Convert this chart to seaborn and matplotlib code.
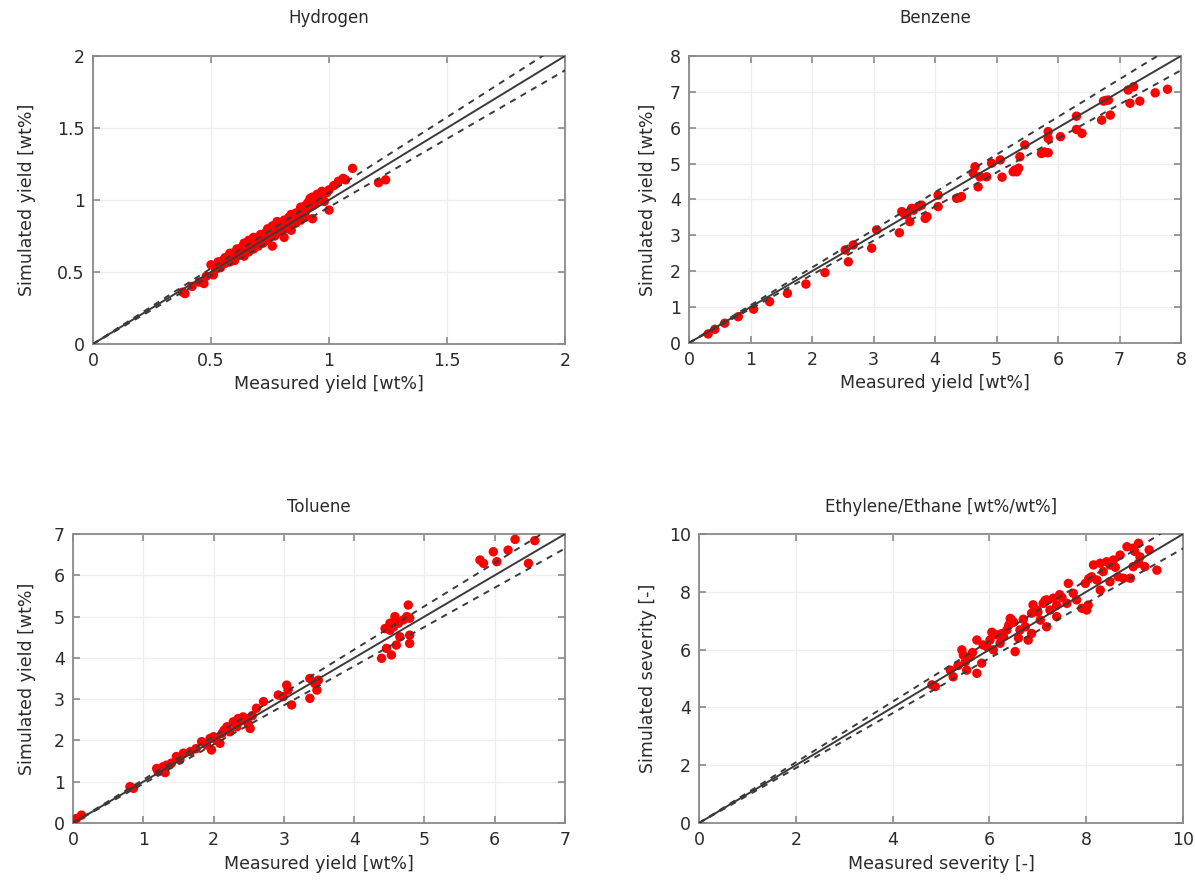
import matplotlib
matplotlib.use("Agg")
import matplotlib.pyplot as plt
import seaborn as sns
import pandas as pd
from matplotlib.ticker import FuncFormatter, MultipleLocator

# Measured vs simulated yields (wt%) for each product
hydrogen_measured = [0.38, 0.39, 0.42, 0.45, 0.47, 0.48, 0.50, 0.51, 0.52, 0.53, 0.54, 0.55, 0.56,
                     0.57, 0.58, 0.58, 0.59, 0.60, 0.60, 0.61, 0.62, 0.62, 0.63, 0.64, 0.64, 0.65,
                     0.66, 0.66, 0.67, 0.68, 0.68, 0.69, 0.70, 0.70, 0.71, 0.72, 0.72, 0.73, 0.74,
                     0.74, 0.75, 0.76, 0.76, 0.77, 0.78, 0.78, 0.79, 0.80, 0.80, 0.81, 0.82, 0.82,
                     0.83, 0.84, 0.84, 0.85, 0.86, 0.87, 0.88, 0.88, 0.89, 0.90, 0.90, 0.91, 0.92,
                     0.92, 0.93, 0.93, 0.94, 0.95, 0.95, 0.96, 0.97, 0.98, 1.00, 1.00, 1.02, 1.04,
                     1.06, 1.07, 1.10, 1.21, 1.24,
                     0.53, 0.56, 0.59, 0.61, 0.63, 0.65, 0.67, 0.69, 0.71, 0.73, 0.75, 0.77, 0.79,
                     0.81, 0.83, 0.86, 0.89, 0.91, 0.94, 0.96, 0.99, 0.57, 0.62, 0.67, 0.72, 0.77,
                     0.82, 0.87, 0.93, 0.55, 0.60, 0.70, 0.80, 0.90,
                     0.58, 0.64, 0.68, 0.74, 0.78, 0.84, 0.88, 0.92, 0.95, 0.97, 0.66, 0.76]
hydrogen_simulated = [0.36, 0.35, 0.40, 0.43, 0.42, 0.47, 0.55, 0.48, 0.52, 0.55, 0.53, 0.58, 0.56,
                      0.60, 0.57, 0.62, 0.60, 0.63, 0.58, 0.65, 0.62, 0.66, 0.64, 0.68, 0.61, 0.66,
                      0.70, 0.64, 0.69, 0.72, 0.66, 0.71, 0.74, 0.68, 0.72, 0.76, 0.70, 0.74, 0.78,
                      0.72, 0.76, 0.79, 0.68, 0.75, 0.81, 0.77, 0.83, 0.79, 0.84, 0.74, 0.82, 0.86,
                      0.80, 0.85, 0.79, 0.88, 0.84, 0.86, 0.90, 0.86, 0.93, 0.96, 0.88, 0.98, 1.00,
                      0.95, 1.02, 0.87, 0.97, 1.04, 1.00, 1.01, 1.05, 0.99, 0.93, 1.07, 1.10, 1.13,
                      1.15, 1.14, 1.22, 1.12, 1.14,
                      0.57, 0.60, 0.63, 0.66, 0.67, 0.70, 0.72, 0.73, 0.76, 0.77, 0.80, 0.82, 0.84,
                      0.86, 0.88, 0.91, 0.95, 0.97, 1.00, 1.03, 1.05, 0.58, 0.63, 0.67, 0.73, 0.78,
                      0.83, 0.88, 0.96, 0.57, 0.61, 0.71, 0.81, 0.92,
                      0.63, 0.70, 0.74, 0.80, 0.85, 0.90, 0.95, 1.01, 1.03, 1.06, 0.72, 0.82]

benzene_measured = [0.31, 0.42, 0.58, 0.80, 1.05, 1.31, 1.60, 1.90, 2.21, 2.54, 2.67, 2.59, 2.97,
                    3.05, 3.42, 3.46, 3.54, 3.59, 3.65, 3.73, 3.78, 3.84, 3.87, 4.05, 4.05, 4.35,
                    4.43, 4.65, 4.62, 4.70, 4.73, 4.84, 4.92, 5.06, 5.09, 5.27, 5.33, 5.36, 5.38,
                    5.46, 5.73, 5.84, 5.84, 5.84, 6.04, 6.30, 6.30, 6.39, 6.71, 6.85, 6.74, 6.82,
                    7.14, 7.23, 7.17, 7.33, 7.58, 7.78, 3.50, 3.62, 4.40, 5.30, 5.78, 6.78]
benzene_simulated = [0.25, 0.38, 0.55, 0.73, 0.94, 1.15, 1.38, 1.64, 1.96, 2.59, 2.73, 2.26, 2.64,
                     3.15, 3.07, 3.66, 3.57, 3.38, 3.70, 3.80, 3.84, 3.47, 3.52, 4.12, 3.80, 4.03,
                     4.08, 4.91, 4.73, 4.35, 4.63, 4.63, 5.01, 5.10, 4.62, 4.77, 4.77, 4.87, 5.19,
                     5.52, 5.28, 5.30, 5.89, 5.70, 5.75, 6.32, 5.95, 5.84, 6.21, 6.35, 6.74, 6.77,
                     7.05, 7.14, 6.68, 6.74, 6.97, 7.07, 3.60, 3.75, 4.05, 4.82, 5.32, 6.76]

toluene_measured = [0.05, 0.12, 0.81, 0.86, 1.19, 1.28, 1.33, 1.21, 1.31, 1.47, 1.57, 1.67, 1.52,
                    1.83, 1.90, 1.97, 2.04, 2.12, 2.00, 2.09, 2.19, 2.28, 2.35, 2.42, 2.49, 2.23,
                    2.33, 2.52, 2.61, 2.71, 2.92, 3.04, 3.06, 2.99, 3.11, 3.37, 3.44, 3.49, 3.37,
                    3.47, 4.39, 4.53, 4.46, 4.60, 4.65, 4.51, 4.63, 4.70, 4.77, 4.75, 4.79, 4.79,
                    4.79, 4.56, 4.51, 4.44, 4.58, 5.79, 5.84, 5.98, 6.03, 6.19, 6.29, 6.57, 6.48,
                    1.40, 1.75, 1.95, 2.15, 2.45, 2.55, 1.25, 2.38]
toluene_simulated = [0.11, 0.19, 0.88, 0.84, 1.32, 1.36, 1.40, 1.24, 1.22, 1.61, 1.69, 1.73, 1.53,
                     1.97, 1.89, 1.77, 2.01, 2.17, 2.09, 1.93, 2.33, 2.45, 2.53, 2.57, 2.41, 2.21,
                     2.33, 2.29, 2.78, 2.94, 3.10, 3.34, 3.22, 3.06, 2.86, 3.50, 3.38, 3.46, 3.02,
                     3.22, 3.99, 4.07, 4.23, 4.31, 4.51, 4.67, 4.84, 4.92, 5.28, 5.00, 4.96, 4.55,
                     4.35, 4.75, 4.84, 4.71, 5.00, 6.37, 6.29, 6.57, 6.33, 6.61, 6.87, 6.84, 6.29,
                     1.45, 1.80, 2.05, 2.25, 2.50, 2.60, 1.30, 2.47]

ethylene_measured = [4.88, 4.81, 5.19, 5.25, 5.43, 5.46, 5.50, 5.53, 5.74, 5.74, 5.87, 5.84, 6.01,
                     6.15, 6.22, 6.08, 6.36, 6.46, 6.43, 6.53, 6.29, 6.63, 6.74, 6.80, 6.87, 6.87,
                     6.98, 7.05, 7.11, 7.18, 7.25, 7.32, 7.39, 7.18, 7.39, 7.63, 7.80, 7.73, 7.91,
                     8.01, 8.04, 7.98, 8.11, 8.22, 8.29, 8.15, 8.29, 8.42, 8.49, 8.56, 8.49, 8.66,
                     8.77, 8.70, 8.84, 8.97, 9.08, 8.97, 9.11, 9.08, 9.21, 8.91, 9.46, 6.50, 6.60,
                     7.00, 5.95, 6.70, 5.60, 5.35, 6.05, 6.40, 6.90, 7.50, 7.60, 8.05, 8.35, 8.60,
                     9.30, 9.00, 7.45, 5.65, 6.25, 7.15]
ethylene_simulated = [4.72, 4.78, 5.29, 5.06, 5.99, 5.81, 5.58, 5.29, 5.18, 6.33, 6.16, 5.53, 6.33,
                      6.51, 6.22, 5.99, 6.68, 7.02, 7.08, 5.93, 6.45, 6.68, 6.79, 6.33, 6.56, 7.26,
                      7.37, 7.02, 7.60, 7.72, 7.37, 7.78, 7.54, 6.79, 7.14, 8.29, 7.72, 7.95, 7.43,
                      7.37, 7.54, 8.29, 8.52, 8.41, 8.06, 8.93, 8.99, 9.04, 8.93, 9.10, 8.35, 8.52,
                      8.47, 9.27, 9.56, 9.51, 9.68, 8.87, 9.21, 8.99, 8.87, 8.47, 8.75, 6.95, 6.40,
                      7.30, 6.10, 7.05, 5.75, 5.45, 6.60, 6.85, 7.55, 7.80, 7.60, 8.45, 8.70, 8.85,
                      9.45, 9.40, 7.90, 5.90, 6.55, 7.70]

titles = ["Hydrogen", "Benzene", "Toluene", "Ethylene/Ethane [wt%/wt%]"]
x_labels = ["Measured yield [wt%]", "Measured yield [wt%]",
            "Measured yield [wt%]", "Measured severity [-]"]
y_labels = ["Simulated yield [wt%]", "Simulated yield [wt%]",
            "Simulated yield [wt%]", "Simulated severity [-]"]
axis_max = [2, 8, 7, 10]
tick_step = [0.5, 1, 1, 2]
tolerance = 0.05

series = [(hydrogen_measured, hydrogen_simulated),
          (benzene_measured, benzene_simulated),
          (toluene_measured, toluene_simulated),
          (ethylene_measured, ethylene_simulated)]

sns.set_theme(style="white")
plt.rcParams["font.family"] = ["DejaVu Sans"]

fig = plt.figure(figsize=(11.95, 8.93), dpi=100)

# axes rectangles in figure fractions: left, bottom, width, height
rects = [(0.0778, 0.6148, 0.3950, 0.3225),
         (0.5766, 0.6160, 0.4117, 0.3214),
         (0.0611, 0.0784, 0.4117, 0.3236),
         (0.5850, 0.0784, 0.4050, 0.3236)]
ylabel_x = [-0.121, -0.065, -0.075, -0.087]
xlabel_y = [-0.108, -0.108, -0.112, -0.112]
title_pad = [24, 24, 16, 16]

frame_grey = "#8a8a8a"
line_grey = "#3a3a3a"
text_col = "#2a2a2a"

for i, ((meas, sim), rect) in enumerate(zip(series, rects)):
    ax = fig.add_axes(rect)
    lim = axis_max[i]
    ref = pd.DataFrame({"x": [0, lim * 1.1]})
    ref["parity"] = ref["x"]
    ref["upper"] = ref["x"] * (1 + tolerance)
    ref["lower"] = ref["x"] * (1 - tolerance)

    df = pd.DataFrame({"measured": meas, "simulated": sim})
    sns.scatterplot(data=df, x="measured", y="simulated", ax=ax, color="#ff0000",
                    s=46, edgecolor="none", linewidth=0, zorder=3)

    sns.lineplot(data=ref, x="x", y="parity", ax=ax, color=line_grey, lw=1.4, zorder=4)
    for col in ["upper", "lower"]:
        sns.lineplot(data=ref, x="x", y=col, ax=ax, color=line_grey, lw=1.4,
                     linestyle=(0, (3.2, 3.0)), zorder=4)

    ax.set_xlim(0, lim)
    ax.set_ylim(0, lim)
    ax.xaxis.set_major_locator(MultipleLocator(tick_step[i]))
    ax.yaxis.set_major_locator(MultipleLocator(tick_step[i]))
    fmt = FuncFormatter(lambda v, p: f"{v:g}")
    ax.xaxis.set_major_formatter(fmt)
    ax.yaxis.set_major_formatter(fmt)

    ax.grid(True, color="#eeeeee", linewidth=0.9)
    ax.set_axisbelow(True)
    for sp in ax.spines.values():
        sp.set_visible(True)
        sp.set_color(frame_grey)
        sp.set_linewidth(1.3)
    ax.tick_params(direction="in", length=5, width=1.2, color=frame_grey,
                   top=True, right=True, bottom=True, left=True,
                   labelsize=12.5, labelcolor=text_col, pad=6)

    ax.set_title(titles[i], fontsize=12, color=text_col, pad=title_pad[i])
    ax.set_xlabel(x_labels[i], fontsize=12.5, color=text_col)
    ax.set_ylabel(y_labels[i], fontsize=12.5, color=text_col)
    ax.xaxis.set_label_coords(0.5, xlabel_y[i])
    ax.yaxis.set_label_coords(ylabel_x[i], 0.5)

fig.savefig("out.png", dpi=100, facecolor="white")
